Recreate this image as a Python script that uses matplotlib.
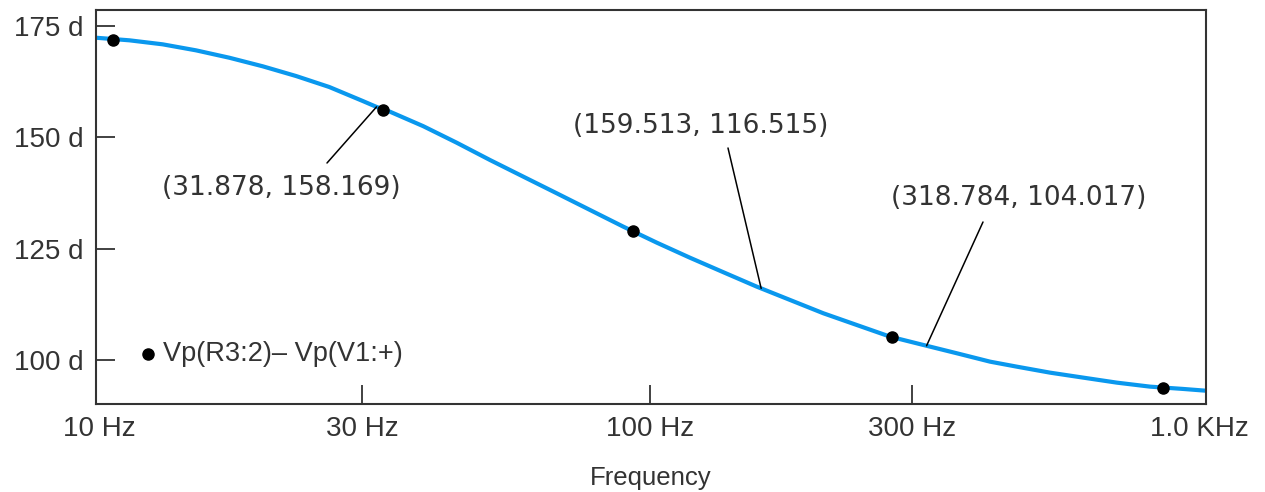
import numpy as np
import matplotlib
matplotlib.use("Agg")
import matplotlib.pyplot as plt

# ---- data ----
freq_hz = [9.85, 11.33, 13.02, 14.97, 17.21, 19.80, 22.76, 26.16, 30.09, 31.81, 33.73,
           38.77, 44.59, 51.25, 58.95, 67.78, 77.92, 89.59, 103.05, 118.44, 136.16,
           156.60, 180.0, 206.93, 237.98, 273.60, 314.53, 361.71, 415.91, 465.06,
           534.70, 614.47, 706.91, 812.52, 933.92, 1022.9]
phase_deg = [172.37, 171.79, 170.89, 169.54, 167.88, 165.95, 163.77, 161.30, 158.16, 156.88, 155.75,
             152.50, 148.79, 144.91, 141.16, 137.43, 133.68, 129.93, 126.34, 122.95, 119.70,
             116.46, 113.47, 110.48, 107.85, 105.23, 103.36, 101.50, 99.61, 98.49,
             97.14, 96.02, 94.90, 94.00, 93.48, 93.10]
marker_freq = [10.56, 32.8, 93.4, 275.6, 858]
marker_phase = [171.9, 156.1, 129.0, 105.1, 93.6]

cursor_freq = [31.878, 159.513, 318.784]
cursor_labels = ["(31.878, 158.169)", "(159.513, 116.515)", "(318.784, 104.017)"]

x_ticks = [10, 30, 100, 300, 1000]
x_ticklabels = ["10 Hz", "30 Hz", "100 Hz", "300 Hz", "1.0 KHz"]
y_ticks = [100, 125, 150, 175]
y_ticklabels = ["100 d", "125 d", "150 d", "175 d"]
trace_name = "Vp(R3:2)\u2013 Vp(V1:+)"
x_title = "Frequency"

W, H = 1265, 492
fig = plt.figure(figsize=(W / 100, H / 100), dpi=100)
fig.patch.set_facecolor("white")
ax = fig.add_axes([96 / W, 88 / H, 1110 / W, 394 / H])
ax.set_xscale("log")
ax.set_xlim(9.85, 1027)
ax.set_ylim(90.1, 178.6)

blue = "#0a98ee"
ax.plot(freq_hz, phase_deg, color=blue, lw=3.0, solid_joinstyle="round", zorder=2)
ax.plot(marker_freq, marker_phase, "o", color="black", ms=8, zorder=3)

# spines / ticks
for s in ax.spines.values():
    s.set_color("#333333")
    s.set_linewidth(1.5)
ax.minorticks_off()
ax.set_xticks(x_ticks)
ax.set_xticklabels(x_ticklabels, fontfamily="Liberation Sans", fontsize=20, color="#333333")
ax.set_yticks(y_ticks)
ax.set_yticklabels(y_ticklabels, fontfamily="Liberation Sans", fontsize=20, color="#333333")
ax.tick_params(axis="both", direction="in", length=14, width=1.3, color="#333333")
ax.tick_params(axis="x", pad=9)
ax.tick_params(axis="y", pad=9)
xt = ax.xaxis.get_major_ticks()
xt[0].tick1line.set_visible(False)
xt[-1].tick1line.set_visible(False)

ax.set_xlabel(x_title, fontfamily="Liberation Sans", fontsize=18.5, color="#333333", labelpad=17)

# cursor annotations: tip on the drawn trace at the cursor frequency
logf = np.log10(freq_hz)
text_px = [(281, 188), (701, 126), (1019, 198)]
line_start_px = [(327, 163), (728, 148), (983, 222)]
for f, lab, (tx, ty), (lx, ly) in zip(cursor_freq, cursor_labels, text_px, line_start_px):
    yv = np.interp(np.log10(f), logf, phase_deg)
    ax.annotate("", xy=(f, yv), xycoords="data",
                xytext=(lx, H - ly), textcoords="figure pixels",
                arrowprops=dict(arrowstyle="-", color="black", lw=1.1,
                                shrinkA=0, shrinkB=0))
    fig.text(tx / W, 1 - ty / H, lab, fontsize=19, color="#333333",
             ha="center", va="center", fontfamily="DejaVu Sans")

# trace name with its symbol
ax.plot([0.0468], [0.127], "o", color="black", ms=8, transform=ax.transAxes, clip_on=False)
ax.text(0.0604, 0.127, trace_name, transform=ax.transAxes, fontsize=19.5, color="#333333",
        ha="left", va="center", fontfamily="Liberation Sans")

fig.savefig("out.png", dpi=100, facecolor="white")
